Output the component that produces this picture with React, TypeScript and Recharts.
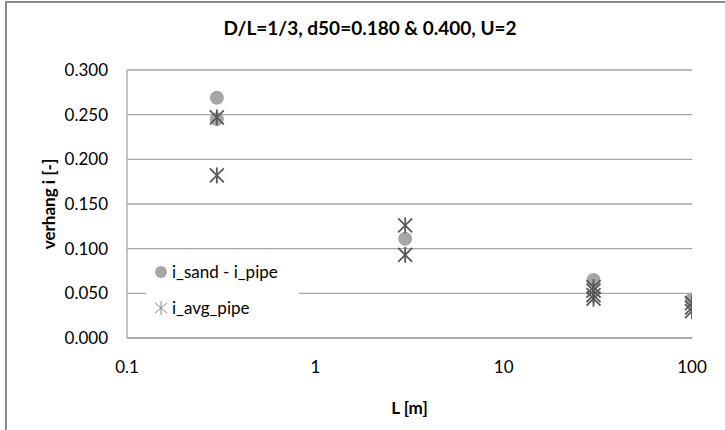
import React from 'react';
import { ScatterChart, Scatter, XAxis, YAxis, CartesianGrid } from 'recharts';

const title = 'D/L=1/3, d50=0.180 & 0.400, U=2';

// L [m] and verhang i [-]
const sandPipeL = [0.3, 0.3, 3, 30, 100];
const sandPipeI = [0.269, 0.245, 0.111, 0.065, 0.043];

const avgPipeL = [0.3, 0.3, 3, 3, 30, 30, 30, 30, 100, 100, 100];
const avgPipeI = [0.247, 0.182, 0.126, 0.093, 0.057, 0.053, 0.048, 0.044, 0.039, 0.034, 0.030];

const xTicks = [0.1, 1, 10, 100];
const yTicks = [0, 0.05, 0.1, 0.15, 0.2, 0.25, 0.3];

const sandPipe = sandPipeL.map((L, i) => ({ L, i: sandPipeI[i] }));
const avgPipe = avgPipeL.map((L, i) => ({ L, i: avgPipeI[i] }));

const FONT = 'Lato, "Open Sans", sans-serif';
const CIRCLE = '#a6a6a6';
const STAR = '#595959';
const GRID = '#a6a6a6';

const Star = (props: any) => {
  const { cx, cy } = props;
  if (cx == null || cy == null) return null;
  const r = 7;
  return (
    <g stroke={STAR} strokeWidth={1.8}>
      <line x1={cx} y1={cy - r - 1} x2={cx} y2={cy + r + 1} />
      <line x1={cx - r} y1={cy - r} x2={cx + r} y2={cy + r} />
      <line x1={cx - r} y1={cy + r} x2={cx + r} y2={cy - r} />
    </g>
  );
};

const Dot = (props: any) => {
  const { cx, cy } = props;
  if (cx == null || cy == null) return null;
  return <circle cx={cx} cy={cy} r={7} fill={CIRCLE} />;
};

const App: React.FC = () => {
  return (
    <div style={{ position: 'absolute', left: 0, top: 0, width: 725, height: 430, overflow: 'hidden', background: '#fff', fontFamily: FONT }}>
      <div style={{ position: 'absolute', left: 5, top: 1, width: 740, height: 450, border: '2px solid #8c8c8c', boxSizing: 'border-box' }} />
      <div style={{ position: 'absolute', left: 0, top: 16, width: 740, textAlign: 'center', fontSize: 19, fontWeight: 700, color: '#000' }}>
        {title}
      </div>
      <div style={{ position: 'absolute', left: 0, top: 0 }}>
        <ScatterChart width={725} height={430} margin={{ top: 70, right: 33, bottom: 0, left: 0 }}>
          <CartesianGrid vertical={false} stroke={GRID} strokeWidth={1.3} />
          <XAxis
            type="number"
            dataKey="L"
            scale="log"
            domain={[0.1, 100]}
            ticks={xTicks}
            allowDataOverflow
            tickFormatter={(v: number) => String(v)}
            height={92}
            tickSize={0}
            tickMargin={23}
            tick={{ fontSize: 17, fill: '#000', fontFamily: FONT }}
            axisLine={{ stroke: GRID, strokeWidth: 1.3 }}
            label={{ value: 'L [m]', position: 'insideBottom', offset: 16, style: { fontSize: 17, fontWeight: 700, fill: '#000', fontFamily: FONT } }}
          />
          <YAxis
            type="number"
            dataKey="i"
            domain={[0, 0.3]}
            ticks={yTicks}
            width={127}
            tickSize={0}
            tickMargin={19}
            tickFormatter={(v: number) => v.toFixed(3)}
            tick={{ fontSize: 17, fill: '#000', fontFamily: FONT }}
            axisLine={{ stroke: GRID, strokeWidth: 1.3 }}
            label={{ value: 'verhang i [-]', angle: -90, position: 'center', dx: -15, style: { fontSize: 17, fontWeight: 700, fill: '#000', fontFamily: FONT, textAnchor: 'middle' } }}
          />
          <Scatter name="i_sand - i_pipe" data={sandPipe} shape={<Dot />} isAnimationActive={false} />
          <Scatter name="i_avg_pipe" data={avgPipe} shape={<Star />} isAnimationActive={false} />
        </ScatterChart>
      </div>
      <div style={{ position: 'absolute', left: 146, top: 256, width: 153, height: 68, background: '#fff', fontSize: 17, color: '#000' }}>
        <div style={{ position: 'absolute', left: 8, top: 5, display: 'flex', alignItems: 'center' }}>
          <svg width={14} height={14} style={{ marginRight: 4 }}><circle cx={7} cy={7} r={6} fill={CIRCLE} /></svg>
          <span>i_sand - i_pipe</span>
        </div>
        <div style={{ position: 'absolute', left: 8, top: 41, display: 'flex', alignItems: 'center' }}>
          <svg width={14} height={14} style={{ marginRight: 4 }}>
            <g stroke="#8c8c8c" strokeWidth={1}>
              <line x1={7} y1={0} x2={7} y2={14} />
              <line x1={1} y1={2} x2={13} y2={12} />
              <line x1={1} y1={12} x2={13} y2={2} />
            </g>
          </svg>
          <span>i_avg_pipe</span>
        </div>
      </div>
    </div>
  );
};

export default App;
